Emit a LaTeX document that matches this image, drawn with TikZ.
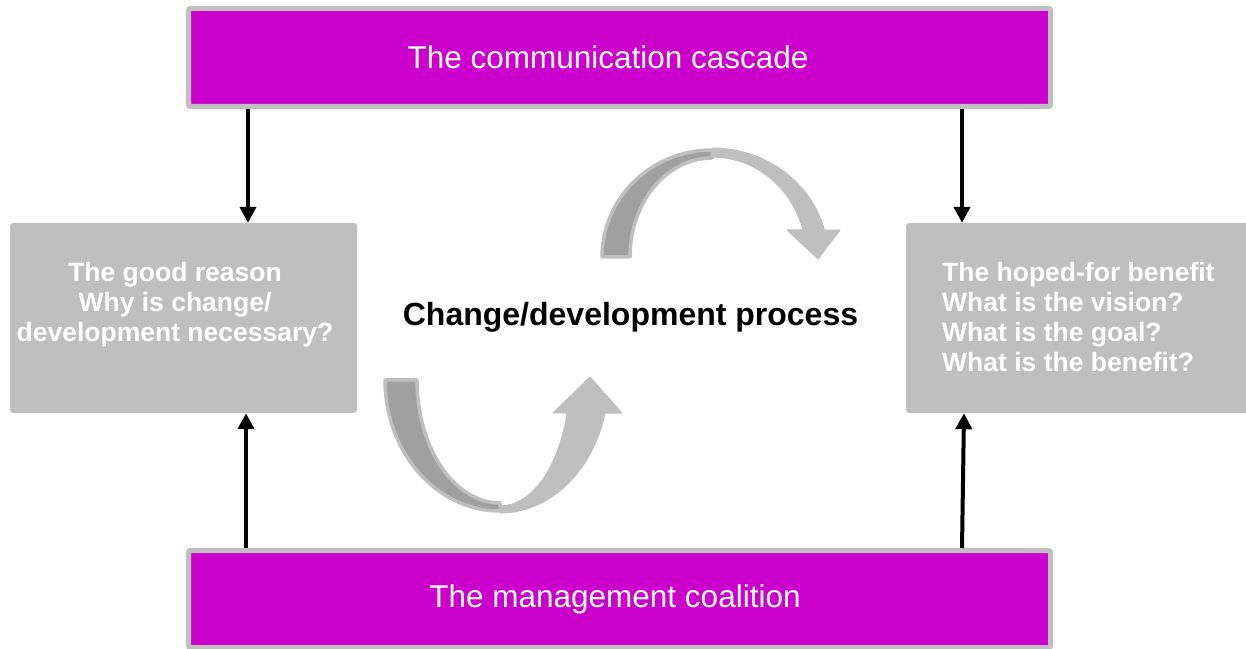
\documentclass[tikz,border=0pt]{standalone}
\usepackage{fontspec}
\setmainfont{Liberation Sans}
\usetikzlibrary{arrows.meta}
\definecolor{boxgray}{HTML}{BFBFBF}
\definecolor{bandgray}{HTML}{A0A0A0}
\definecolor{cascade}{HTML}{CC00CC}
\begin{document}
\begin{tikzpicture}[x=1pt,y=1pt,
  banner/.style={draw=boxgray, line width=5pt, fill=cascade, rounded corners=2pt,
    minimum width=862pt, inner sep=0pt},
  infobox/.style={fill=boxgray, rounded corners=3pt, minimum width=347pt,
    minimum height=190pt, inner sep=0pt},
  bannertext/.style={text=white, font=\fontsize{31.5}{36}\selectfont, inner sep=0pt, anchor=base},
  infotext/.style={text=white, font=\fontsize{26.5}{30}\bfseries\selectfont, inner sep=0pt},
  link/.style={line width=4pt, -{Triangle[length=16pt,width=16pt]}},
  ribbonback/.style={fill=bandgray, draw=boxgray, line width=3.5pt, line join=round},
  ribbonfront/.style={fill=boxgray, draw=boxgray, line width=1pt, line join=round}
]
\useasboundingbox (0,0) rectangle (1246,648);

% banners
\node[banner, minimum height=98pt] (cascade) at (619.5,590.5) {};
\node[bannertext] (cascadetext) at (608,579.7) {The communication cascade};
\node[banner, minimum height=97pt] (coalition) at (619.5,49) {};
\node[bannertext] (coalitiontext) at (615,41) {The management coalition};

% side boxes (text blocks anchored on their last baseline)
\node[infobox] (reason) at (183.5,330) {};
\node[infobox] (benefit) at (1079.5,330) {};
\node[infotext, align=center, anchor=base] (reasontext) at (175,306)
  {The good reason\\Why is change/\\development necessary?};
\node[infotext, align=left, anchor=base west] (benefittext) at (942,276)
  {The hoped-for benefit\\What is the vision?\\What is the goal?\\What is the benefit?};

% centre label
\node[font=\fontsize{32}{38}\bfseries\selectfont, inner sep=0pt, anchor=base] (process)
  at (630.5,322) {Change/development process};

% vertical connectors
\coordinate (xl) at (248,0);
\coordinate (xr) at (962,0);
\coordinate (xlb) at (246,0);
\coordinate (xrb) at (962,0);
\coordinate (xrt) at (964,0);
\draw[link] (cascade.south -| xl) -- (reason.north -| xl);
\draw[link] (cascade.south -| xr) -- (benefit.north -| xr);
\draw[link] (coalition.north -| xlb) -- (reason.south -| xlb);
\draw[link] (coalition.north -| xrb) -- (benefit.south -| xrt);

% upper curved arrow: front face then twisted back face
\path[ribbonfront] (712,500) arc[start angle=90, end angle=14.3, x radius=116, y radius=109]
  -- (840,418) -- (818,389) -- (787,418) -- (803,418)
  arc[start angle=15.66, end angle=90, x radius=94.5, y radius=100] -- cycle;
\path[ribbonback] (602,391) arc[start angle=180, end angle=90, x radius=110, y radius=107]
  -- (712,490) arc[start angle=90, end angle=180, x radius=82, y radius=99] -- cycle;

% lower curved arrow
\path[ribbonfront] (500,135) arc[start angle=270, end angle=345.6, x radius=108.4, y radius=133]
  -- (622,235) -- (590,271) -- (553,235) -- (567,235)
  arc[start angle=-15.2, end angle=-90, x radius=69.4, y radius=126] -- cycle;
\path[ribbonback] (385,268) arc[start angle=180, end angle=270, x radius=115, y radius=131]
  -- (500,145) arc[start angle=270, end angle=180, x radius=83, y radius=123] -- cycle;
\end{tikzpicture}
\end{document}
